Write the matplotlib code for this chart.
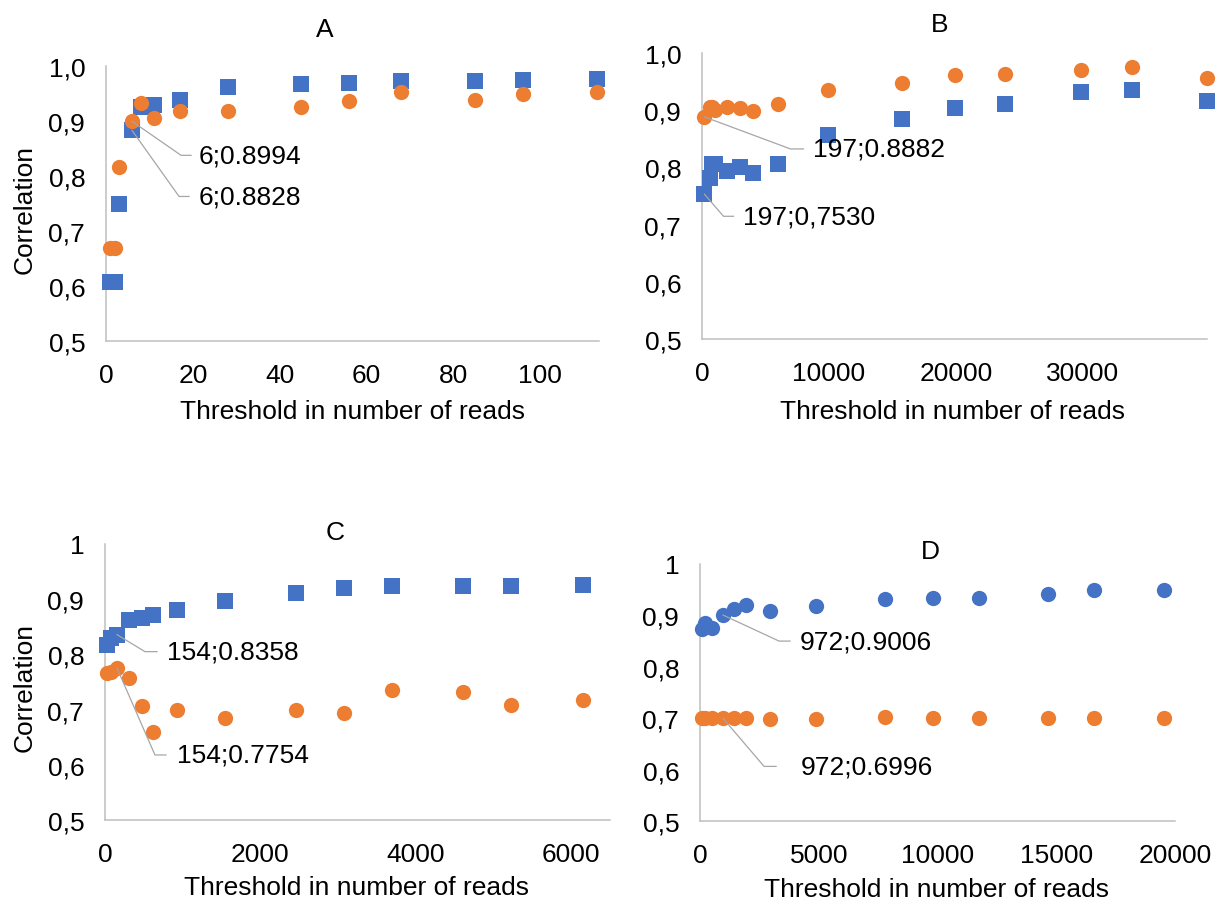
"""Correlation versus read-count threshold, four panels."""

import matplotlib

matplotlib.use("Agg")
import matplotlib.pyplot as plt

plt.rcParams["font.family"] = ["Liberation Sans", "DejaVu Sans"]
plt.rcParams["font.size"] = 19

BLUE = "#4472C4"
ORANGE = "#ED7D31"
AXIS_GREY = "#BFBFBF"
LEADER_GREY = "#A6A6A6"

# panel A
a_x = [1, 2, 3, 6, 8, 11, 17, 28, 45, 56, 68, 85, 96, 113]
a_blue = [0.607, 0.607, 0.750, 0.8828, 0.926, 0.929, 0.939, 0.962, 0.967, 0.970, 0.972, 0.972, 0.975, 0.977]
a_orange = [0.670, 0.670, 0.816, 0.8994, 0.932, 0.906, 0.918, 0.918, 0.925, 0.937, 0.952, 0.939, 0.950, 0.952]

# panel B
b_x = [197, 600, 800, 1000, 2000, 3000, 4000, 6000, 9900, 15800, 19900, 23900, 29900, 33900, 39800]
b_blue = [0.7530, 0.782, 0.806, 0.806, 0.794, 0.800, 0.791, 0.806, 0.856, 0.884, 0.904, 0.911, 0.932, 0.936, 0.916]
b_orange = [0.8882, 0.906, 0.906, 0.900, 0.906, 0.903, 0.898, 0.910, 0.936, 0.948, 0.962, 0.963, 0.971, 0.976, 0.956]

# panel C
c_x = [30, 80, 154, 310, 470, 620, 930, 1540, 2460, 3070, 3690, 4610, 5230, 6150]
c_blue = [0.817, 0.829, 0.8358, 0.863, 0.866, 0.871, 0.880, 0.897, 0.912, 0.921, 0.924, 0.924, 0.924, 0.926]
c_orange = [0.767, 0.768, 0.7754, 0.758, 0.707, 0.659, 0.699, 0.685, 0.700, 0.694, 0.735, 0.732, 0.708, 0.718]

# panel D
d_x = [100, 200, 500, 972, 1450, 1950, 2950, 4900, 7800, 9800, 11750, 14650, 16600, 19550]
d_blue = [0.873, 0.886, 0.876, 0.9006, 0.912, 0.921, 0.909, 0.919, 0.932, 0.934, 0.934, 0.942, 0.949, 0.950]
d_orange = [0.700, 0.700, 0.700, 0.6996, 0.700, 0.700, 0.699, 0.699, 0.702, 0.700, 0.700, 0.700, 0.700, 0.701]

y_ticks = [0.5, 0.6, 0.7, 0.8, 0.9, 1.0]
y_labels_top = ["0,5", "0,6", "0,7", "0,8", "0,9", "1,0"]
y_labels_bottom = ["0,5", "0,6", "0,7", "0,8", "0,9", "1"]

X_LABEL = "Threshold in number of reads"
Y_LABEL = "Correlation"

W, H = 1219, 904
fig = plt.figure(figsize=(W / 100, H / 100), dpi=100)
fig.patch.set_facecolor("white")


def px_box(left, top, right, bottom):
    return [left / W, 1 - bottom / H, (right - left) / W, (bottom - top) / H]


def fig_text(x, y, s, **kw):
    fig.text(x / W, 1 - y / H, s, ha="center", va="center", **kw)


def setup(ax, xmax, xticks, ylabels):
    ax.set_xlim(0, xmax)
    ax.set_ylim(0.5, 1.0)
    ax.set_xticks(xticks)
    ax.set_yticks(y_ticks, labels=ylabels)
    for side in ("top", "right"):
        ax.spines[side].set_visible(False)
    for side in ("left", "bottom"):
        ax.spines[side].set_color(AXIS_GREY)
        ax.spines[side].set_linewidth(1.1)
    ax.tick_params(axis="x", length=0, pad=16)
    ax.tick_params(axis="y", length=0, pad=15)
    ax.set_facecolor("none")


def scatter(ax, xs, ys, color, marker):
    ax.plot(xs, ys, ls="none", marker=marker, ms=11, color=color,
            mew=0, clip_on=False, zorder=3)


def leader(ax, x, y, corner, hlen, text_dx, sep="."):
    """Excel-style data label: diagonal leader, short horizontal, then text."""
    text = f"{x};{y:.4f}".replace(".", sep)
    px, py = ax.transData.transform((x, y))
    cx, cy = px + corner[0], py - corner[1]
    inv = ax.transData.inverted()
    pts = inv.transform([(px, py), (cx, cy), (cx + hlen, cy)])
    ax.plot(pts[:, 0], pts[:, 1], color=LEADER_GREY, lw=0.9, clip_on=False, zorder=4)
    tx, ty = inv.transform((px + text_dx, cy))
    ax.text(tx, ty, text, ha="left", va="center", zorder=5)


ax_a = fig.add_axes(px_box(106, 67, 599, 342))
setup(ax_a, 113.5, [0, 20, 40, 60, 80, 100], y_labels_top)
scatter(ax_a, a_x, a_blue, BLUE, "s")
scatter(ax_a, a_x, a_orange, ORANGE, "o")
leader(ax_a, a_x[3], a_orange[3], (49, 34), 10, 67)
leader(ax_a, a_x[3], a_blue[3], (47, 66), 10, 67)

ax_b = fig.add_axes(px_box(702, 54, 1207, 340))
setup(ax_b, 39800, [0, 10000, 20000, 30000], y_labels_top)
scatter(ax_b, b_x, b_blue, BLUE, "s")
scatter(ax_b, b_x, b_orange, ORANGE, "o")
leader(ax_b, b_x[0], b_orange[0], (86, 32), 13, 109)
leader(ax_b, b_x[0], b_blue[0], (19, 22), 10, 39, sep=",")

ax_c = fig.add_axes(px_box(105, 545, 610, 821))
setup(ax_c, 6500, [0, 2000, 4000, 6000], y_labels_bottom)
scatter(ax_c, c_x, c_blue, BLUE, "s")
scatter(ax_c, c_x, c_orange, ORANGE, "o")
leader(ax_c, c_x[2], c_blue[2], (28, 17), 12, 50)
leader(ax_c, c_x[2], c_orange[2], (38, 87), 11, 60)

ax_d = fig.add_axes(px_box(700, 565, 1175, 822))
setup(ax_d, 20000, [0, 5000, 10000, 15000, 20000], y_labels_bottom)
scatter(ax_d, d_x, d_blue, BLUE, "o")
scatter(ax_d, d_x, d_orange, ORANGE, "o")
leader(ax_d, d_x[3], d_blue[3], (56, 26), 11, 77)
leader(ax_d, d_x[3], d_orange[3], (41, 48), 12, 78)

# panel letters, axis titles
fig_text(325, 30, "A")
fig_text(940, 25, "B")
fig_text(335, 533, "C")
fig_text(930, 552, "D")
fig_text(352, 412, X_LABEL)
fig_text(952, 412, X_LABEL)
fig_text(357, 888, X_LABEL)
fig_text(937, 890, X_LABEL)
fig_text(25, 210, Y_LABEL, rotation=90)
fig_text(25, 688, Y_LABEL, rotation=90)

fig.savefig("out.png", dpi=100, facecolor="white")
